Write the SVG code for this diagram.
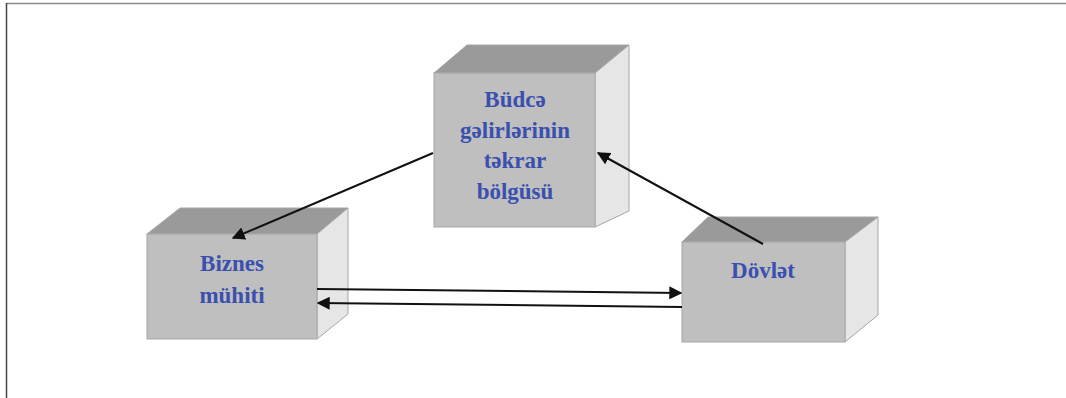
<svg xmlns="http://www.w3.org/2000/svg" width="1066" height="398" viewBox="0 0 1066 398">
<style>
.front{fill:#bfbfbf;stroke:#a6a6a6;stroke-width:1}
.top{fill:#9a9a9a;stroke:#a6a6a6;stroke-width:1}
.side{fill:#e6e6e6;stroke:#a6a6a6;stroke-width:1}
.lbl{font-family:"Liberation Serif","Times New Roman",serif;font-weight:bold;font-size:23px;fill:#3a4fae;text-anchor:middle}
.conn{stroke:#111;stroke-width:2;fill:none}
</style>
<defs>
<marker id="ah" viewBox="0 0 10 10" refX="9" refY="5" markerWidth="6.5" markerHeight="6.5" markerUnits="strokeWidth" orient="auto">
<path d="M0,0 L10,5 L0,10 z" fill="#111"/>
</marker>
</defs>
<rect x="0" y="0" width="1066" height="398" fill="#fff"/>
<line x1="6" y1="3.5" x2="1066" y2="3.5" stroke="#8a8a8a" stroke-width="1.5"/>
<line x1="6.5" y1="3" x2="6.5" y2="398" stroke="#444" stroke-width="1.5"/>
<g id="node-budce">
<polygon class="top" points="434,73 467,45 629,45 595,73"/>
<polygon class="side" points="595,73 629,45 629,211 595,227"/>
<rect class="front" x="434" y="73" width="161" height="154"/>
<text class="lbl" x="515" y="107">Büdcə</text>
<text class="lbl" x="515" y="138">gəlirlərinin</text>
<text class="lbl" x="515" y="168">təkrar</text>
<text class="lbl" x="515" y="199">bölgüsü</text>
</g>
<g id="node-biznes">
<polygon class="top" points="147,234 180,208 348,208 317,234"/>
<polygon class="side" points="317,234 348,208 348,314 317,339"/>
<rect class="front" x="147" y="234" width="170" height="105"/>
<text class="lbl" x="232" y="271">Biznes</text>
<text class="lbl" x="232" y="303">mühiti</text>
</g>
<g id="node-dovlet">
<polygon class="top" points="682,242 708,217 878,217 845,242"/>
<polygon class="side" points="845,242 878,217 878,315 845,342"/>
<rect class="front" x="682" y="242" width="163" height="100"/>
<text class="lbl" x="763" y="278">Dövlət</text>
</g>
<g id="connectors">
<line class="conn" x1="433" y1="153" x2="233" y2="238" marker-end="url(#ah)"/>
<line class="conn" x1="763" y1="244" x2="598" y2="153" marker-end="url(#ah)"/>
<line class="conn" x1="317" y1="289" x2="681" y2="293" marker-end="url(#ah)"/>
<line class="conn" x1="682" y1="307" x2="318" y2="303" marker-end="url(#ah)"/>
</g>
</svg>
